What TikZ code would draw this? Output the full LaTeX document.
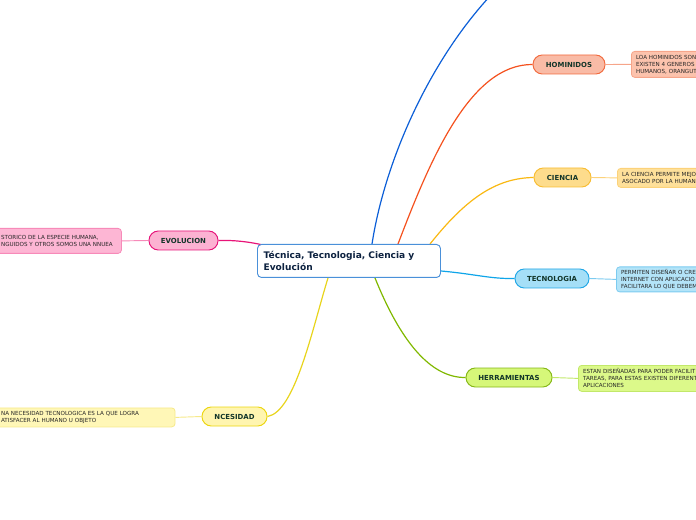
\documentclass[tikz,border=0pt]{standalone}
\usepackage{fontspec}
\setmainfont{DejaVu Sans}
\usetikzlibrary{calc,backgrounds}
\definecolor{navy}{HTML}{0D2240}
\definecolor{lbl}{HTML}{123529}
\definecolor{cborder}{HTML}{4A90D9}
\definecolor{homF}{HTML}{F9BBA6}\definecolor{homB}{HTML}{F26B3F}\definecolor{homTF}{HTML}{FCC3AD}\definecolor{homTB}{HTML}{F6A58A}\definecolor{homL}{HTML}{F4511E}
\definecolor{cieF}{HTML}{FDDC8C}\definecolor{cieB}{HTML}{F8BD33}\definecolor{cieTF}{HTML}{FEE09A}\definecolor{cieTB}{HTML}{FCD27A}\definecolor{cieL}{HTML}{F9B812}
\definecolor{tecF}{HTML}{A5DFF7}\definecolor{tecB}{HTML}{22A7E6}\definecolor{tecTF}{HTML}{B3E4F8}\definecolor{tecTB}{HTML}{7CCBF0}\definecolor{tecL}{HTML}{0FA5E9}
\definecolor{herF}{HTML}{D6F779}\definecolor{herB}{HTML}{86B818}\definecolor{herTF}{HTML}{DCF98A}\definecolor{herTB}{HTML}{C2E86A}\definecolor{herL}{HTML}{80B800}
\definecolor{evoF}{HTML}{FCB2D2}\definecolor{evoB}{HTML}{E6147A}\definecolor{evoTF}{HTML}{FDB6D4}\definecolor{evoTB}{HTML}{F78AB9}\definecolor{evoL}{HTML}{E81478}
\definecolor{necF}{HTML}{FFF5B0}\definecolor{necB}{HTML}{ECD610}\definecolor{necTF}{HTML}{FFF7B7}\definecolor{necTB}{HTML}{F6E98A}\definecolor{necL}{HTML}{E8D41C}
\definecolor{topL}{HTML}{0B5ED7}
\tikzset{
  mainbox/.style={draw=cborder, fill=white, line width=0.7pt, rounded corners=3pt, anchor=north west,
    minimum width=137.25pt, minimum height=24.75pt, inner xsep=3.5pt, text=navy,
    font=\bfseries\fontsize{6.8}{8.8}\selectfont, align=left, text width=128pt},
  lblbox/.style={draw, line width=0.7pt, rounded corners=7pt, minimum height=14.25pt, inner sep=0pt,
    text=lbl, font=\bfseries\fontsize{5.2}{6}\selectfont},
  txtbox/.style={draw, line width=0.6pt, rounded corners=2.5pt, anchor=north west, inner xsep=3.5pt, inner ysep=0pt,
    align=left, text width=110pt, font=\fontsize{4.2}{5.25}\selectfont, text=black!85},
  conn/.style={line width=0.9pt},
  thin/.style={line width=0.7pt}
}
\begin{document}
\begin{tikzpicture}[x=0.75pt,y=-0.75pt]
\useasboundingbox (0,0) rectangle (696,520);
\clip (0,0) rectangle (696,520);
\node[mainbox] (c) at (257,244) {Técnica, Tecnologia, Ciencia y\\Evolución};
\node[lblbox, draw=homB, fill=homF, minimum width=54pt] (hom) at (569,64.5) {HOMINIDOS};
\node[lblbox, draw=cieB, fill=cieF, minimum width=42.75pt] (cie) at (562.5,177.5) {CIENCIA};
\node[lblbox, draw=tecB, fill=tecF, minimum width=55.5pt] (tec) at (552,278.5) {TECNOLOGIA};
\node[lblbox, draw=herB, fill=herF, minimum width=64.5pt] (her) at (509,377.5) {HERRAMIENTAS};
\node[lblbox, draw=evoB, fill=evoF, minimum width=51.75pt] (evo) at (183.5,240.5) {EVOLUCION};
\node[lblbox, draw=necB, fill=necF, minimum width=48.75pt] (nec) at (234.5,416.5) {NCESIDAD};
\node[txtbox, draw=homTB, fill=homTF, minimum height=19.5pt] (homt) at (631,51) {LOA HOMINIDOS SON\\EXISTEN 4 GENEROS\\HUMANOS, ORANGUT.};
\node[txtbox, draw=cieTB, fill=cieTF, minimum height=14.25pt] (ciet) at (617,168) {LA CIENCIA PERMITE MEJO\\ASOCADO POR LA HUMANI};
\node[txtbox, draw=tecTB, fill=tecTF, minimum height=18.75pt] (tect) at (616,266.5) {PERMITEN DISEÑAR O CRE\\INTERNET CON APLICACIO\\FACILITARA LO QUE DEBEM};
\node[txtbox, draw=herTB, fill=herTF, minimum height=19.5pt] (hert) at (578,365) {ESTAN DISEÑADAS PARA PODER FACILIT\\TAREAS, PARA ESTAS EXISTEN DIFERENT\\APLICACIONES};
\node[txtbox, draw=evoTB, fill=evoTF, minimum height=18.75pt, text width=86.75pt] (evot) at (-4,228) {STORICO DE LA ESPECIE HUMANA,\\NGUIDOS Y OTROS SOMOS UNA NNUEA};
\node[txtbox, draw=necTB, fill=necTF, minimum height=14.25pt, text width=127pt] (nect) at (-4,407.5) {NA NECESIDAD TECNOLOGICA ES LA QUE LOGRA\\ATISFACER AL HUMANO U OBJETO};
\coordinate (top) at (492,-6);
\begin{pgfonlayer}{background}
\draw[conn, topL] ($(c.north west)+(115,0)$) .. controls (385,160) and (430,60) .. (top);
\draw[conn, homL] ($(c.north west)+(141,0)$) .. controls (430,160) and (470,64) .. (hom.west);
\draw[conn, cieL] ($(c.north west)+(173,0)$) .. controls (465,200) and (495,178) .. (cie.west);
\draw[conn, tecL] ($(c.north east)+(0,27)$) .. controls (475,274) and (490,279) .. (tec.west);
\draw[conn, herL] ($(c.south west)+(118,0)$) .. controls (400,340) and (430,378) .. (her.west);
\draw[conn, evoL] (evo.east) .. controls (235,240) and (250,242) .. ($(c.north west)+(6,1)$);
\draw[conn, necL] (nec.east) .. controls (295,412) and (312,330) .. ($(c.south west)+(71,0)$);
\draw[thin, homTB] (hom.east) -- (homt.west);
\draw[thin, cieTB] (cie.east) -- (ciet.west);
\draw[thin, tecTB] (tec.east) -- (tect.west);
\draw[thin, herTB] (her.east) -- (hert.west);
\draw[thin, evoTB] (evo.west) -- (evot.east);
\draw[thin, necTB] (nec.west) -- (nect.east);
\end{pgfonlayer}
\end{tikzpicture}
\end{document}
